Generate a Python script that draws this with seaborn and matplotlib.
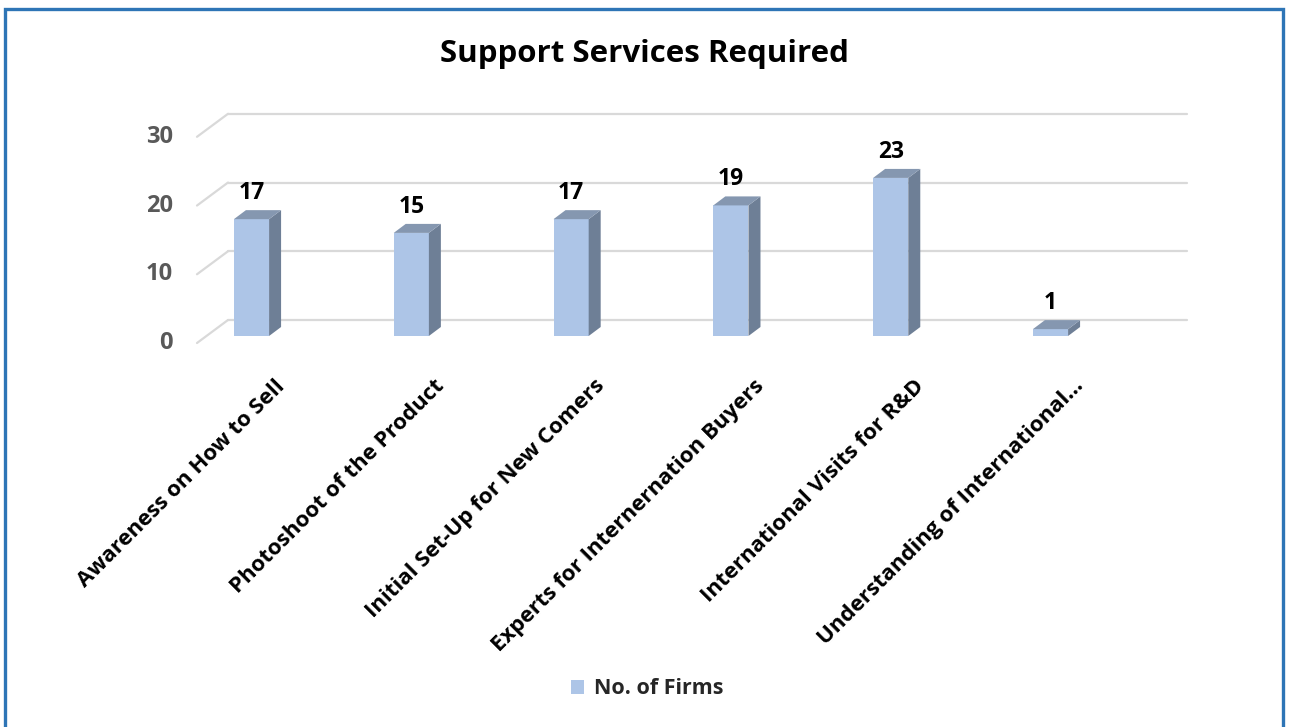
import matplotlib
matplotlib.use("Agg")
import matplotlib.pyplot as plt
from matplotlib.patches import Polygon, Rectangle, Patch
from matplotlib.lines import Line2D
import seaborn as sns
import pandas as pd

# ---- data ----
categories = ["Awareness on How to Sell", "Photoshoot of the Product",
              "Initial Set-Up for New Comers", "Experts for Internernation Buyers",
              "International Visits for R&D", "Understanding of International..."]
values = [17, 15, 17, 19, 23, 1]
y_ticks = [0, 10, 20, 30]
series_name = "No. of Firms"
title = "Support Services Required"

sns.set_theme(style="white")
plt.rcParams["font.family"] = ["Open Sans", "DejaVu Sans"]

W, H = 1290, 727
fig = plt.figure(figsize=(W / 100, H / 100), dpi=100)
fig.patch.set_facecolor("white")

# axes: x -0.5..5.5 spans 171.6..1130.4 px, y 0..30 spans 336..129.8 px
ax = fig.add_axes([171.6 / W, (H - 336) / H, 958.8 / W, 206.2 / H])
pxx = 958.8 / 6.0    # px per category unit
pxy = 206.2 / 30.0   # px per value unit

df = pd.DataFrame({"cat": categories, "val": values})
front = "#ADC5E7"
side = "#6E7F96"
topc = "#8597B0"
sns.barplot(data=df, x="cat", y="val", color=front, width=0.22,
            saturation=1, ax=ax, zorder=3, linewidth=0)

ax.set_xlim(-0.5, 5.5)
ax.set_ylim(0, 30)
ax.axis("off")

# back wall gridlines and left floor diagonals
bx0 = -0.5 + 56.4 / pxx
bx1 = 5.5 + 56.4 / pxx
bdy = 16 / pxy
fx = -0.5 + 25.4 / pxx
fdy = -7 / pxy
gcol = "#D9D9D9"
for v in y_ticks:
    ax.add_line(Line2D([bx0, bx1], [v + bdy, v + bdy], color=gcol, lw=1.6,
                       zorder=0.5, clip_on=False))
    ax.add_line(Line2D([fx, bx0], [v + fdy, v + bdy], color=gcol, lw=1.6,
                       zorder=0.5, clip_on=False))
    ax.text(fx - 24 / pxx, v + fdy, str(v), ha="right", va="center",
            fontsize=17, fontweight="bold", color="#595959")

# 3D faces from bar patches
dx = 12 / pxx
dy = 9 / pxy
for p in ax.patches:
    x0 = p.get_x(); w = p.get_width(); h = p.get_height()
    ax.add_patch(Polygon([(x0 + w, 0), (x0 + w + dx, dy), (x0 + w + dx, h + dy), (x0 + w, h)],
                         closed=True, facecolor=side, edgecolor="none", zorder=3, clip_on=False))
    ax.add_patch(Polygon([(x0, h), (x0 + w, h), (x0 + w + dx, h + dy), (x0 + dx, h + dy)],
                         closed=True, facecolor=topc, edgecolor="none", zorder=3, clip_on=False))

# value labels
for i, v in enumerate(values):
    ax.text(i, v + 26 / pxy, str(v), ha="center", va="center", fontsize=16.5,
            fontweight="bold", color="black")

# category labels
for i, c in enumerate(categories):
    ax.text(i + 30 / pxx, -47 / pxy, c, rotation=45, rotation_mode="anchor",
            ha="right", va="center", fontsize=16, fontweight="bold", color="black")

fig.text(644 / W, 1 - 54 / H, title, ha="center", va="center", fontsize=22.5,
         fontweight="bold", color="black")

fig.legend(handles=[Patch(facecolor=front, edgecolor="none", label=series_name)],
           loc="center", bbox_to_anchor=(647 / W, 1 - 689 / H), frameon=False,
           prop={"weight": "bold", "size": 15.5}, handlelength=0.6, handleheight=0.6,
           handletextpad=0.45)

# outer border
fig.patches.append(Rectangle((5 / W, -0.05), 1278 / W, 1.05 - 8.5 / H,
                             transform=fig.transFigure, fill=False,
                             edgecolor="#2E75B6", lw=2.4, zorder=10))

fig.savefig("out.png", dpi=100, facecolor="white")
